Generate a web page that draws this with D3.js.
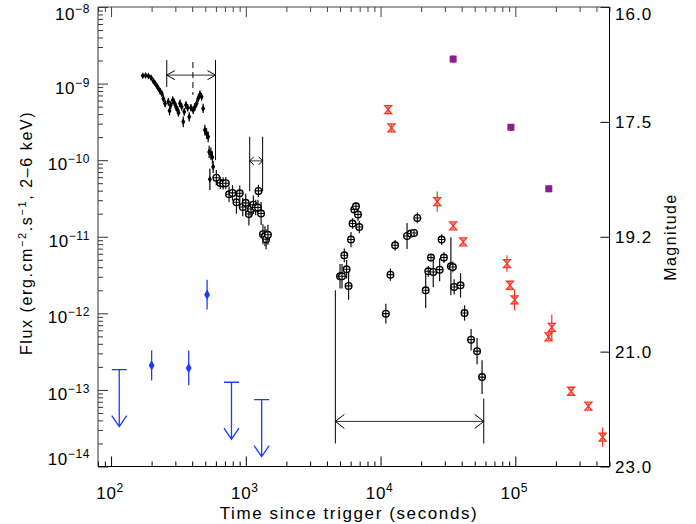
<!DOCTYPE html>
<html><head><meta charset="utf-8">
<script src="https://cdn.jsdelivr.net/npm/d3@7"></script>
<style>
body{margin:0;background:#fff}
svg{display:block}
text{font-family:"Liberation Sans",Arial,Helvetica,sans-serif;fill:#000}
</style>
</head><body>
<svg id="c" width="696" height="524"></svg>
<script>
// ---------------- DATA ----------------
// X-ray, early prompt/steep decay phase (small filled diamonds)
const earlyT = [172,180.5,189.3,198.2,206.1,212.2,218.4,224.4,231,237.8,244.3,251.5,266.1,271.6,277.2,286.8,294.7,303.4,312.3,316.5,324.7,334.2,343.4,349.3,359.6,370.2,380.4,391.5,407.2,419.1,431.4,443.3,456.4,469.7,482.7,496.8,511.4,525.5,534.6,550.3,564.5,572.3,541.1];
const earlyF = [1.265e-9,1.272e-9,1.253e-9,1.19e-9,1.078e-9,1.006e-9,9.36e-10,8.66e-10,7.98e-10,7.44e-10,6.40e-10,5.51e-10,5.78e-10,4.41e-10,5.24e-10,6.08e-10,5.68e-10,4.97e-10,4.50e-10,4.15e-10,5.51e-10,4.97e-10,3.17e-10,4.28e-10,5.24e-10,4.83e-10,3.68e-10,4.83e-10,4.50e-10,4.97e-10,5.51e-10,6.40e-10,7.22e-10,6.72e-10,4.74e-10,2.47e-10,2.23e-10,2.02e-10,1.28e-10,1.22e-10,1.09e-10,8.18e-11,5.64e-11];
const earlyErrDex = [0.02,0.02,0.02,0.03,0.03,0.03,0.03,0.04,0.04,0.04,0.05,0.05,0.05,0.06,0.05,0.05,0.05,0.05,0.05,0.05,0.05,0.05,0.07,0.05,0.05,0.05,0.06,0.05,0.05,0.05,0.05,0.05,0.05,0.05,0.06,0.07,0.07,0.07,0.08,0.08,0.08,0.08,0.14];

// X-ray, later data (circle-cross markers), first orbit
const orbit1T = [604.2,647,678.6,710.4,751.4,796.2,852,901.5,948.8,998.4,1054,1093,1138,1184,1231,1241,1299,1340,1387,1415,1459];
const orbit1F = [5.90e-11,5.05e-11,4.96e-11,5.00e-11,3.59e-11,3.74e-11,2.82e-11,3.70e-11,2.45e-11,2.77e-11,1.98e-11,2.30e-11,2.62e-11,2.41e-11,2.41e-11,3.97e-11,2.01e-11,1.08e-11,1.015e-11,9.28e-12,1.06e-11];
const orbit1ErrDex = [0.1,0.08,0.08,0.08,0.1,0.1,0.15,0.1,0.12,0.12,0.15,0.1,0.12,0.1,0.1,0.08,0.15,0.13,0.13,0.13,0.13];

// X-ray, later orbits (circle-cross markers)
const lateT = [5002,5176,5383,5598,5792,6034,6200,6382,6570,6796,6948,10943,11836,12822,15724,16749,17717,18739,21617,22594,23659,24603,27441,28391,29525,33250,34400,35170,39220,42000,46980,52030,56650];
const lateF = [3.05e-12,3.05e-12,5.73e-12,3.76e-12,2.28e-12,9.19e-12,1.49e-11,2.27e-11,2.50e-11,1.95e-11,1.34e-11,9.91e-13,3.20e-12,7.74e-12,1.024e-11,1.10e-11,1.121e-11,1.76e-11,2.00e-12,3.54e-12,5.35e-12,3.47e-12,3.72e-12,9.19e-12,5.35e-12,4.12e-12,4.03e-12,2.21e-12,2.32e-12,1.01e-12,4.53e-13,3.21e-13,1.47e-13];
const lateErrDex = [0.16,0.16,0.09,0.12,0.18,0.1,0.07,0.05,0.05,0.08,0.08,0.13,0.08,0.07,0.17,0.04,0.04,0.07,0.23,0.07,0.05,0.2,0.15,0.07,0.07,0.38,0.07,0.1,0.16,0.1,0.14,0.17,0.22];

// Blue detections and upper limits
const blueT = [200, 377, 516];
const blueF = [2.09e-13, 1.93e-13, 1.75e-12];
const blueLo = [1.33e-13, 1.15e-13, 1.12e-12];
const blueHi = [3.28e-13, 3.28e-13, 2.75e-12];
const blueLimitT = [115, 783, 1311];
const blueLimitF = [1.84e-13, 1.26e-13, 7.45e-14];

// Optical (magnitude axis)
const redT = [11380,12040,26340,34580,41000,86690,91200,98800,176300,186500,259400,348300,444300];
const redMag = [17.34,17.59,18.68,19.04,19.28,19.62,19.96,20.19,20.77,20.62,21.69,21.95,22.49];
const redErr = [0.06,0.06,0.15,0.05,0.05,0.13,0.05,0.16,0.06,0.2,0.05,0.05,0.17];
const purpleT = [34580, 92780, 177200];
const purpleMag = [16.68, 17.58, 18.49];
const purpleErr = [0.05, 0.05, 0.05];

// Time-interval brackets
const bracketStartT = [259, 1069, 4619];
const bracketEndT = [596, 1333, 58300];
const bracketArrowF = [1.29e-9, 9.79e-11, 3.88e-14];
const bracketStartSpan = [[2.03e-9, 9.0e-10], [2.02e-10, 3.93e-11], [2.0e-12, 2.0e-14]];
const bracketEndSpan = [[2.03e-9, 1.0e-10], [2.02e-10, 3.93e-11], [7.74e-14, 2.0e-14]];
const peakT = 405;
const peakSpan = [1.91e-9, 7.1e-10];

// Tick labels
const xTickExp = [2, 3, 4, 5];
const yTickExp = [-14, -13, -12, -11, -10, -9, -8];
const magTicks = [16.0, 17.5, 19.2, 21.0, 23.0];

// ---------------- LAYOUT / STYLE ----------------
const L = 98, R = 609.5, T = 7, B = 466.5;
const BLUE = "#1e3cff", RED = "#ff3322", PURPLE = "#8c1c8a";
const arrowHead = [[8, 4.5], [4, 4], [9, 7]];
const limitLen = 57;

const svg = d3.select("#c");
const x = d3.scaleLog().domain([80, 5e5]).range([L, R]);
const y = d3.scaleLog().domain([1e-14, 1e-8]).range([B, T]);
const mag = d3.scaleLinear().domain(magTicks)
  .range(magTicks.map((d, i) => T + (B - T) * i / (magTicks.length - 1)));

// ticks
const xMajor = xTickExp.map(e => Math.pow(10, e));
const xMinor = [];
for (let e = 1; e <= 5; e++) for (let k = 2; k <= 9; k++) {
  const v = k * Math.pow(10, e);
  if (v >= 80 && v <= 5e5) xMinor.push(v);
}
const yMajor = yTickExp.map(e => Math.pow(10, e));
const yMinor = [];
for (let e = -14; e < -8; e++) for (let k = 2; k <= 9; k++) yMinor.push(k * Math.pow(10, e));

function styleAxis(g, col) {
  g.select(".domain").remove();
  g.selectAll("line").attr("stroke", col);
}
// bottom
svg.append("g").attr("transform", `translate(0,${B})`)
  .call(d3.axisBottom(x).tickValues(xMajor).tickSize(-10).tickFormat(""))
  .call(g => styleAxis(g, "#000"));
svg.append("g").attr("transform", `translate(0,${B})`)
  .call(d3.axisBottom(x).tickValues(xMinor).tickSize(-5).tickFormat(""))
  .call(g => styleAxis(g, "#000"));
// top
svg.append("g").attr("transform", `translate(0,${T})`)
  .call(d3.axisTop(x).tickValues(xMajor).tickSize(-10).tickFormat(""))
  .call(g => styleAxis(g, "#444"));
svg.append("g").attr("transform", `translate(0,${T})`)
  .call(d3.axisTop(x).tickValues(xMinor).tickSize(-5).tickFormat(""))
  .call(g => styleAxis(g, "#444"));
// left
svg.append("g").attr("transform", `translate(${L},0)`)
  .call(d3.axisLeft(y).tickValues(yMajor).tickSize(-10).tickFormat(""))
  .call(g => styleAxis(g, "#333"));
svg.append("g").attr("transform", `translate(${L},0)`)
  .call(d3.axisLeft(y).tickValues(yMinor).tickSize(-5).tickFormat(""))
  .call(g => styleAxis(g, "#333"));
// right (magnitude)
svg.append("g").attr("transform", `translate(${R},0)`)
  .call(d3.axisRight(mag).tickValues(magTicks).tickSize(-9).tickFormat(""))
  .call(g => styleAxis(g, "#000"));

// frame
svg.append("line").attr("x1", L).attr("x2", R).attr("y1", B).attr("y2", B).attr("stroke", "#000");
svg.append("line").attr("x1", R).attr("x2", R).attr("y1", T).attr("y2", B).attr("stroke", "#000");
svg.append("line").attr("x1", L).attr("x2", R).attr("y1", T).attr("y2", T).attr("stroke", "#444");
svg.append("line").attr("x1", L).attr("x2", L).attr("y1", T).attr("y2", B).attr("stroke", "#333");

// tick labels
xMajor.forEach((v, i) => {
  const t = svg.append("text").attr("x", x(v) - 1).attr("y", 499)
    .attr("text-anchor", "middle").style("font-size", "17px").style("letter-spacing", "0.6px");
  t.append("tspan").text("10");
  t.append("tspan").attr("dy", -7).style("font-size", "12px").text(String(xTickExp[i]));
});
yMajor.forEach((v, i) => {
  const yy = Math.min(Math.max(y(v) + 10, 20), 465);
  const t = svg.append("text").attr("x", 90).attr("y", yy)
    .attr("text-anchor", "end").style("font-size", "17px").style("letter-spacing", "0.6px");
  t.append("tspan").text("10");
  t.append("tspan").attr("dy", -7).style("font-size", "12px")
    .text(String(yTickExp[i]).replace("-", "\u2212"));
});
magTicks.forEach(m => {
  const yy = Math.max(mag(m), 14);
  svg.append("text").attr("x", 615).attr("y", yy).attr("dy", "0.36em")
    .style("font-size", "17px").style("letter-spacing", "1px").text(m.toFixed(1));
});

// axis titles
svg.append("text").attr("x", 349).attr("y", 519).attr("text-anchor", "middle")
  .style("font-size", "17px").style("letter-spacing", "1.6px").text("Time since trigger (seconds)");
{
  const t = svg.append("text").attr("transform", "translate(32,233) rotate(-90)")
    .attr("text-anchor", "middle").style("font-size", "16px").style("letter-spacing", "1.6px");
  t.append("tspan").text("Flux (erg.cm");
  t.append("tspan").attr("dy", -6).style("font-size", "11px").text("\u22122");
  t.append("tspan").attr("dy", 6).text(".s");
  t.append("tspan").attr("dy", -6).style("font-size", "11px").text("\u22121");
  t.append("tspan").attr("dy", 6).text(", 2\u20136 keV)");
}
svg.append("text").attr("transform", "translate(676,237) rotate(-90)")
  .attr("text-anchor", "middle").style("font-size", "16px").style("letter-spacing", "1.4px").text("Magnitude");

// ---------------- MARKS ----------------
const plot = svg.append("g");

// brackets
bracketStartT.forEach((t0, i) => {
  const t1 = bracketEndT[i], yf = y(bracketArrowF[i]);
  const x0 = x(t0), x1 = x(t1);
  const [al, ah] = arrowHead[i];
  plot.append("line").attr("x1", x0).attr("x2", x0)
    .attr("y1", y(bracketStartSpan[i][0])).attr("y2", y(bracketStartSpan[i][1])).attr("stroke", "#000");
  plot.append("line").attr("x1", x1).attr("x2", x1)
    .attr("y1", y(bracketEndSpan[i][0])).attr("y2", y(bracketEndSpan[i][1])).attr("stroke", "#000");
  plot.append("line").attr("x1", x0).attr("x2", x1).attr("y1", yf).attr("y2", yf).attr("stroke", "#333");
  plot.append("path").attr("fill", "none").attr("stroke", "#000")
    .attr("d", `M${x0 + al},${yf - ah}L${x0},${yf}L${x0 + al},${yf + ah}M${x1 - al},${yf - ah}L${x1},${yf}L${x1 - al},${yf + ah}`);
});
plot.append("line").attr("x1", x(peakT)).attr("x2", x(peakT))
  .attr("y1", y(peakSpan[0])).attr("y2", y(peakSpan[1]))
  .attr("stroke", "#000").attr("stroke-dasharray", "6,4");

// early diamonds
earlyT.forEach((t, i) => {
  const f = earlyF[i], e = Math.pow(10, earlyErrDex[i]);
  plot.append("line").attr("x1", x(t)).attr("x2", x(t))
    .attr("y1", y(f * e)).attr("y2", y(f / e)).attr("stroke", "#000").attr("stroke-width", 1.2);
  plot.append("path").attr("transform", `translate(${x(t)},${y(f)})`)
    .attr("d", d3.symbol(d3.symbolDiamond, 14)()).attr("fill", "#000");
});

// circle-cross markers
function circleCross(ts, fs, errs) {
  ts.forEach((t, i) => {
    const f = fs[i], e = Math.pow(10, errs[i]);
    const cx = x(t), cy = y(f);
    plot.append("line").attr("x1", cx).attr("x2", cx)
      .attr("y1", y(f * e)).attr("y2", y(f / e)).attr("stroke", "#111").attr("stroke-width", 1.2);
    plot.append("circle").attr("cx", cx).attr("cy", cy).attr("r", 3.3)
      .attr("fill", "#fff").attr("stroke", "#000").attr("stroke-width", 1.4);
    plot.append("path").attr("d", `M${cx - 3.3},${cy}H${cx + 3.3}M${cx},${cy - 3.3}V${cy + 3.3}`)
      .attr("stroke", "#000").attr("stroke-width", 1.1);
  });
}
circleCross(orbit1T, orbit1F, orbit1ErrDex);
circleCross(lateT, lateF, lateErrDex);

// blue detections
blueT.forEach((t, i) => {
  plot.append("line").attr("x1", x(t)).attr("x2", x(t))
    .attr("y1", y(blueHi[i])).attr("y2", y(blueLo[i])).attr("stroke", BLUE).attr("stroke-width", 1.3);
  plot.append("path").attr("transform", `translate(${x(t)},${y(blueF[i])})`)
    .attr("d", d3.symbol(d3.symbolDiamond, 30)()).attr("fill", BLUE);
});
// blue upper limits
blueLimitT.forEach((t, i) => {
  const cx = x(t), cy = y(blueLimitF[i]), tip = cy + limitLen;
  plot.append("path").attr("fill", "none").attr("stroke", BLUE).attr("stroke-width", 1.3)
    .attr("d", `M${cx - 7.5},${cy}H${cx + 7.5}M${cx},${cy}V${tip}M${cx - 7.5},${tip - 11}L${cx},${tip}L${cx + 7.5},${tip - 11}`);
});

// red optical points (hourglass)
redT.forEach((t, i) => {
  const cx = x(t), cy = mag(redMag[i]);
  plot.append("line").attr("x1", cx).attr("x2", cx)
    .attr("y1", mag(redMag[i] - redErr[i])).attr("y2", mag(redMag[i] + redErr[i]))
    .attr("stroke", RED).attr("stroke-width", 1.2);
  plot.append("path").attr("d", `M${cx - 3.5},${cy - 4}H${cx + 3.5}L${cx - 3.5},${cy + 4}H${cx + 3.5}Z`)
    .attr("fill", "rgba(255,120,100,0.35)").attr("stroke", RED).attr("stroke-width", 1.3);
});

// purple squares
purpleT.forEach((t, i) => {
  const cx = x(t), cy = mag(purpleMag[i]);
  plot.append("line").attr("x1", cx).attr("x2", cx)
    .attr("y1", mag(purpleMag[i] - purpleErr[i])).attr("y2", mag(purpleMag[i] + purpleErr[i]))
    .attr("stroke", PURPLE).attr("stroke-width", 1.2);
  plot.append("rect").attr("x", cx - 3.5).attr("y", cy - 3.5).attr("width", 7).attr("height", 7)
    .attr("fill", PURPLE);
});
</script>
</body></html>
